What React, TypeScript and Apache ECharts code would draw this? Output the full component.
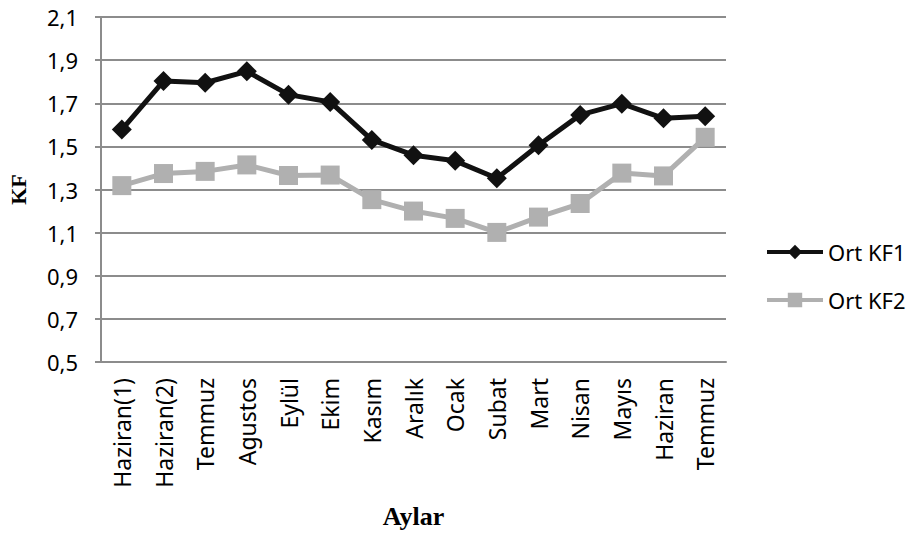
import React, { useEffect, useRef } from "react";
import * as echarts from "echarts";

const categories = [
  "Haziran(1)", "Haziran(2)", "Temmuz", "Agustos", "Eylül", "Ekim", "Kasım",
  "Aralık", "Ocak", "Subat", "Mart", "Nisan", "Mayıs", "Haziran", "Temmuz",
];
const ortKF1 = [1.578, 1.803, 1.795, 1.848, 1.740, 1.706, 1.530, 1.459, 1.433, 1.352, 1.505, 1.646, 1.698, 1.630, 1.640];
const ortKF2 = [1.318, 1.374, 1.384, 1.414, 1.365, 1.367, 1.253, 1.200, 1.166, 1.101, 1.172, 1.235, 1.376, 1.363, 1.542];
const yMin = 0.5;
const yMax = 2.1;
const yStep = 0.2;

export default function App() {
  const ref = useRef<HTMLDivElement>(null);
  useEffect(() => {
    if (!ref.current) return;
    const chart = echarts.init(ref.current, null, { renderer: "svg" });
    const shift = (v: number) => +(v - yMin).toFixed(4);
    const labelFont = "'Noto Sans', 'Open Sans', sans-serif";
    const serif = "'Liberation Serif', 'DejaVu Serif', serif";
    chart.setOption({
      animation: false,
      backgroundColor: "#fff",
      grid: { left: 101, top: 17, width: 625, height: 345, containLabel: false, outerBoundsMode: "none" },
      legend: {
        orient: "vertical",
        left: 765,
        top: 241,
        itemWidth: 56,
        itemHeight: 18,
        itemGap: 26,
        padding: 0,
        lineStyle: { width: 4 },
        textStyle: { fontSize: 22, color: "#000", fontFamily: labelFont },
        data: ["Ort KF1", "Ort KF2"],
      },
      xAxis: {
        type: "category",
        data: categories,
        boundaryGap: true,
        axisLine: { lineStyle: { color: "#8c8c8c", width: 2 } },
        axisTick: { show: false },
        axisLabel: { rotate: 90, fontSize: 23, color: "#000", fontFamily: labelFont, margin: 16, interval: 0 },
        name: "Aylar",
        nameLocation: "middle",
        nameGap: 141,
        nameTextStyle: { fontFamily: serif, fontWeight: "bold", fontSize: 26, color: "#000" },
      },
      yAxis: {
        type: "value",
        min: 0,
        max: +(yMax - yMin).toFixed(4),
        interval: yStep,
        axisLine: { show: true, lineStyle: { color: "#8c8c8c", width: 2 } },
        axisTick: { show: true, length: 6, lineStyle: { color: "#8c8c8c", width: 2 } },
        splitLine: { show: true, lineStyle: { color: "#8c8c8c", width: 2 } },
        axisLabel: {
          fontSize: 22,
          color: "#000",
          fontFamily: labelFont,
          margin: 23,
          formatter: (v: number) => (v + yMin).toFixed(1).replace(".", ","),
        },
        name: "KF",
        nameLocation: "middle",
        nameGap: 72,
        nameTextStyle: { fontFamily: serif, fontWeight: "bold", fontSize: 22, color: "#000" },
      },
      series: [
        {
          name: "Ort KF1",
          type: "line",
          data: ortKF1.map(shift),
          symbol: "diamond",
          symbolSize: 20,
          lineStyle: { color: "#111", width: 5 },
          itemStyle: { color: "#111" },
          z: 3,
        },
        {
          name: "Ort KF2",
          type: "line",
          data: ortKF2.map(shift),
          symbol: "rect",
          symbolSize: 19,
          lineStyle: { color: "#b0b0b0", width: 5 },
          itemStyle: { color: "#b0b0b0" },
          z: 2,
        },
      ],
    });
    return () => chart.dispose();
  }, []);
  return <div ref={ref} style={{ position: "absolute", left: 0, top: 0, width: 913, height: 538 }} />;
}
